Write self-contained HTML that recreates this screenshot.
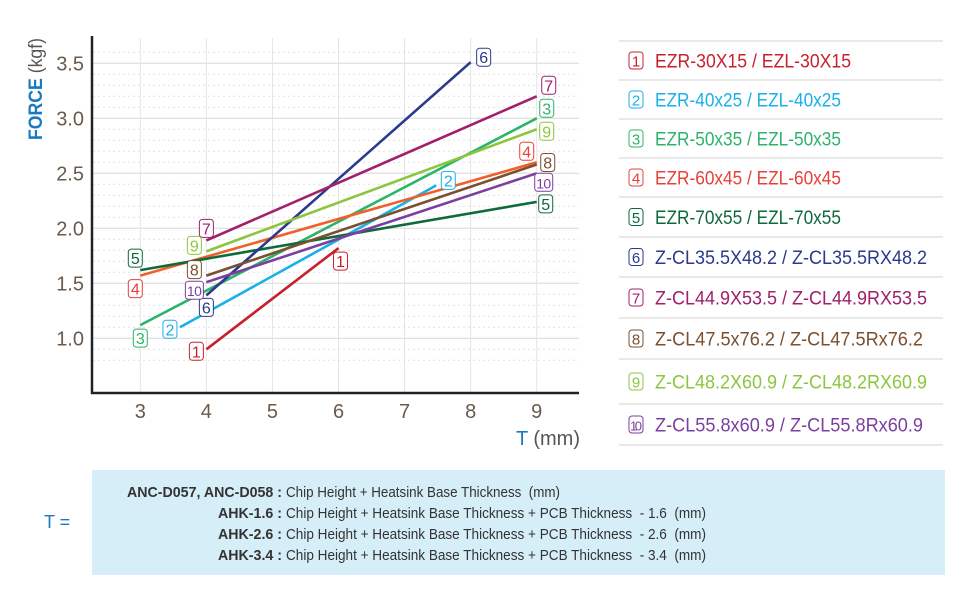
<!DOCTYPE html>
<html><head><meta charset="utf-8"><style>
html,body{margin:0;padding:0;background:#fff;}
svg{display:block;font-family:"Liberation Sans Narrow","Liberation Sans",sans-serif;}
</style></head><body>
<svg id="chart" width="970" height="600" viewBox="0 0 970 600">
<g id="grid"></g>
<g id="axes"></g>
<g id="series"></g>
<g id="labels"></g>
<g id="legend"></g>
<g>
<text transform="translate(42,140) rotate(-90)" font-size="19" font-weight="bold" fill="#1a7ac0" textLength="102" lengthAdjust="spacingAndGlyphs">FORCE <tspan fill="#555" font-weight="normal">(kgf)</tspan></text>
</g>
<text x="580" y="445" text-anchor="end" font-size="20" fill="#555"><tspan fill="#1a7ac0">T</tspan> (mm)</text>
<g>
<rect x="92" y="470" width="853" height="105" fill="#d6eef8"/>
<text x="44" y="528" font-size="18" fill="#1a7ac0">T =</text>
<g font-size="15" fill="#333">
<text x="282" y="497" text-anchor="end" font-weight="bold" textLength="155" lengthAdjust="spacingAndGlyphs">ANC-D057, ANC-D058 :</text>
<text x="286" y="497" xml:space="preserve" textLength="274" lengthAdjust="spacingAndGlyphs">Chip Height + Heatsink Base Thickness  (mm)</text>
<text x="282" y="518" text-anchor="end" font-weight="bold" textLength="64" lengthAdjust="spacingAndGlyphs">AHK-1.6 :</text>
<text x="286" y="518" xml:space="preserve" textLength="420" lengthAdjust="spacingAndGlyphs">Chip Height + Heatsink Base Thickness + PCB Thickness  - 1.6  (mm)</text>
<text x="282" y="539" text-anchor="end" font-weight="bold" textLength="64" lengthAdjust="spacingAndGlyphs">AHK-2.6 :</text>
<text x="286" y="539" xml:space="preserve" textLength="420" lengthAdjust="spacingAndGlyphs">Chip Height + Heatsink Base Thickness + PCB Thickness  - 2.6  (mm)</text>
<text x="282" y="560" text-anchor="end" font-weight="bold" textLength="64" lengthAdjust="spacingAndGlyphs">AHK-3.4 :</text>
<text x="286" y="560" xml:space="preserve" textLength="420" lengthAdjust="spacingAndGlyphs">Chip Height + Heatsink Base Thickness + PCB Thickness  - 3.4  (mm)</text>
</g>
</g>
</svg>
<script>
const xTicks=[3,4,5,6,7,8,9];
const yTicks=[1.0,1.5,2.0,2.5,3.0,3.5];
const seriesIds=["1","2","3","4","5","6","7","8","9","10"];
const seriesNames=["EZR-30X15 / EZL-30X15","EZR-40x25 / EZL-40x25","EZR-50x35 / EZL-50x35","EZR-60x45 / EZL-60x45","EZR-70x55 / EZL-70x55","Z-CL35.5X48.2 / Z-CL35.5RX48.2","Z-CL44.9X53.5 / Z-CL44.9RX53.5","Z-CL47.5x76.2 / Z-CL47.5Rx76.2","Z-CL48.2X60.9 / Z-CL48.2RX60.9","Z-CL55.8x60.9 / Z-CL55.8Rx60.9"];
const seriesColors=["#c8202f","#1ab0e8","#2db36a","#f0602a","#0e6a3a","#2a3a8c","#a0206a","#7a5030","#8cc63e","#7b3fa0"];
const startT=[4,3.6,3,3,3,4,4,4,4,4];
const startF=[0.90,1.10,1.12,1.57,1.62,1.39,1.89,1.57,1.79,1.51];
const endT=[6,7.48,9,9,9,8,9,9,9,9];
const endF=[1.82,2.39,3.0,2.6,2.24,3.51,3.2,2.58,2.9,2.5];
const NS="http://www.w3.org/2000/svg";
const X=t=>140.3+(t-3)*66.07;
const Y=v=>338.3-(v-1)*110;
function mk(tag,attrs,parent){const e=document.createElementNS(NS,tag);for(const k in attrs)e.setAttribute(k,attrs[k]);parent.appendChild(e);return e;}
const grid=document.getElementById('grid'),axes=document.getElementById('axes'),series=document.getElementById('series'),labels=document.getElementById('labels'),legend=document.getElementById('legend');
for(let i=0;i<=28;i++){const v=0.8+i*0.1;const y=Y(v);if(y>390||y<38)continue;
 const major=Math.abs(v*2-Math.round(v*2))<1e-6;
 mk('line',{x1:93,x2:579,y1:y,y2:y,stroke:major?'#d8d8d8':'#e2e2e2','stroke-width':1,'stroke-dasharray':major?'':'2,3'},grid);}
xTicks.forEach(t=>{const l=mk('line',{x1:X(t),x2:X(t),y1:38,y2:392,stroke:'#e4e4e4','stroke-width':1},grid);
 
 
 const tx=mk('text',{x:X(t),y:418,'text-anchor':'middle','font-size':20,fill:'#6b5a4a'},axes);tx.textContent=t;
 
 });
yTicks.forEach(v=>{const tx=mk('text',{x:84,y:Y(v)+7,'text-anchor':'end','font-size':20,fill:'#6b5a4a'},axes);tx.textContent=v.toFixed(1);
 
 });
mk('line',{x1:92,x2:92,y1:36,y2:394,stroke:'#222','stroke-width':2.5},axes);
mk('line',{x1:91,x2:579,y1:393,y2:393,stroke:'#222','stroke-width':2.5},axes);
function box(x,y,id,color,parent,w){const bw=w||(id.length>1?18:14);
 const g=mk('g',{},parent);
 mk('rect',{x:x-bw/2,y:y-9,width:bw,height:18,rx:3,fill:'#fff',stroke:color,'stroke-width':1},g);
 const t=mk('text',{x:x,y:y+6,'text-anchor':'middle','font-size':id.length>1?14:16,fill:color},g);t.textContent=id;
 if(id.length>1)t.setAttribute('textLength',15);
 return g;}
const lblStart=[[-10,2],[-10,2],[0,13],[-5,13],[-5,-12],[0,12],[0,-12],[-12,-6],[-12,-6],[-12,8]];
const lblEnd=[[2,13],[12,-5],[10,-10],[-10,-11],[9,2],[13,-5],[12,-11],[11,-2],[10,2],[7,9]];
seriesIds.forEach((id,i)=>{
 const l=mk('line',{x1:X(startT[i]),y1:Y(startF[i]),x2:X(endT[i]),y2:Y(endF[i]),stroke:seriesColors[i],'stroke-width':2.6},series);
 
 
 const c=seriesColors[i]==='#f0602a'?'#e8403a':seriesColors[i];
 const a=box(X(startT[i])+lblStart[i][0],Y(startF[i])+lblStart[i][1],id,c,labels);
 
 
 const b=box(X(endT[i])+lblEnd[i][0],Y(endF[i])+lblEnd[i][1],id,c,labels);
 
 
});
const seps=[41,80,119,158,197,237,277,318,359,404,445];
seps.forEach(y=>mk('line',{x1:619,x2:943,y1:y,y2:y,stroke:'#dcdcdc','stroke-width':1.2},legend));
seriesIds.forEach((id,i)=>{
 const cy=(seps[i]+seps[i+1])/2;
 const c=seriesColors[i]==='#f0602a'?'#e8403a':seriesColors[i];
 const g=mk('g',{},legend);
 
 
 mk('rect',{x:629,y:cy-8.5,width:14,height:17,rx:3,fill:'#fff',stroke:c,'stroke-width':1},g);
 const n=mk('text',{x:636,y:cy+6,'text-anchor':'middle','font-size':id.length>1?13:15,fill:c},g);n.textContent=id;
 if(id.length>1)n.setAttribute('textLength',12);
 const t=mk('text',{x:655,y:cy+7,'font-size':19,fill:c},g);t.textContent=seriesNames[i];
 const L=i<5?(i==0?196:186):(i==5?272:(i==6?272:(i==7?268:(i==8?272:268))));
 t.setAttribute('textLength',L);t.setAttribute('lengthAdjust','spacingAndGlyphs');
});
</script>
</body></html>
